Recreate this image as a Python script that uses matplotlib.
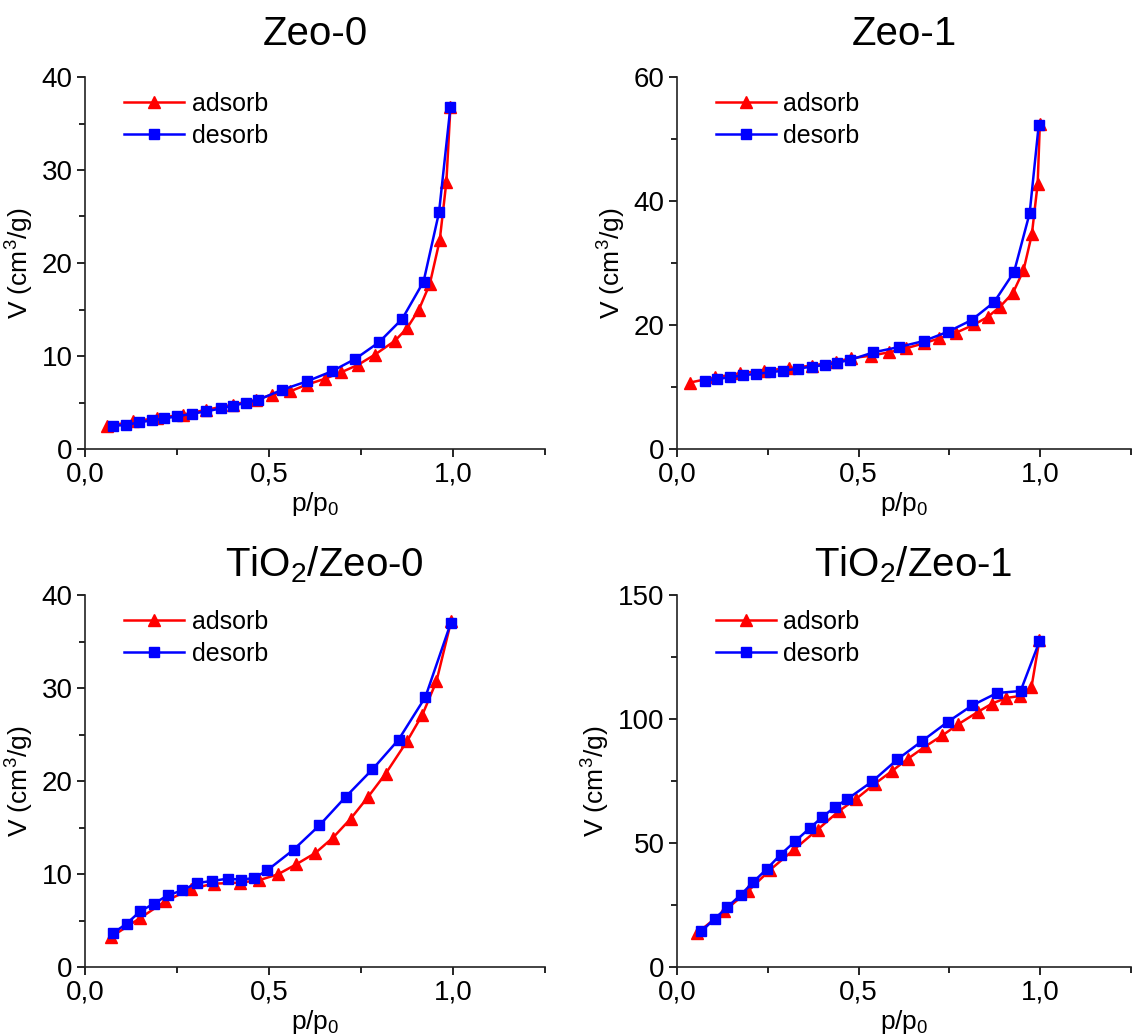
import matplotlib
matplotlib.use("Agg")
import matplotlib.pyplot as plt
from matplotlib.ticker import MultipleLocator, FuncFormatter

plt.rcParams['font.family'] = ['Liberation Sans', 'DejaVu Sans']
plt.rcParams['mathtext.default'] = 'regular'

# Zeo-0
zeo0_ads_x = [0.059, 0.130, 0.197, 0.265, 0.330, 0.401, 0.466, 0.507, 0.557, 0.602, 0.652,
              0.695, 0.742, 0.787, 0.842, 0.875, 0.907, 0.937, 0.964, 0.982, 0.993]
zeo0_ads_y = [2.43, 2.97, 3.33, 3.69, 4.22, 4.76, 5.30, 5.83, 6.19, 6.91, 7.55,
              8.23, 9.05, 10.13, 11.63, 12.99, 14.96, 17.75, 22.47, 28.73, 36.78]
zeo0_des_x = [0.077, 0.111, 0.146, 0.182, 0.215, 0.251, 0.290, 0.329, 0.369, 0.403, 0.437,
              0.469, 0.536, 0.602, 0.670, 0.735, 0.799, 0.862, 0.920, 0.962, 0.993]
zeo0_des_y = [2.50, 2.58, 2.86, 3.08, 3.29, 3.51, 3.79, 4.04, 4.36, 4.65, 4.97,
              5.26, 6.37, 7.26, 8.34, 9.70, 11.48, 13.99, 18.00, 25.44, 36.78]

# Zeo-1
zeo1_ads_x = [0.035, 0.106, 0.174, 0.240, 0.307, 0.371, 0.439, 0.478, 0.534, 0.583, 0.630,
              0.679, 0.722, 0.768, 0.819, 0.856, 0.889, 0.925, 0.954, 0.977, 0.993, 0.999]
zeo1_ads_y = [10.71, 11.57, 12.21, 12.64, 13.02, 13.45, 14.09, 14.63, 15.05, 15.59, 16.23,
              17.04, 17.84, 18.75, 20.09, 21.32, 22.93, 25.18, 28.82, 34.61, 42.75, 52.39]
zeo1_des_x = [0.077, 0.111, 0.147, 0.181, 0.217, 0.255, 0.293, 0.334, 0.371, 0.408, 0.441,
              0.476, 0.541, 0.611, 0.679, 0.746, 0.811, 0.873, 0.928, 0.971, 0.996]
zeo1_des_y = [11.04, 11.30, 11.57, 11.89, 12.11, 12.37, 12.64, 12.96, 13.29, 13.55, 13.93,
              14.36, 15.59, 16.45, 17.41, 18.91, 20.79, 23.68, 28.55, 38.04, 52.29]

# TiO2/Zeo-0
tz0_ads_x = [0.071, 0.150, 0.218, 0.289, 0.350, 0.420, 0.472, 0.524, 0.574, 0.626, 0.674,
             0.722, 0.769, 0.817, 0.875, 0.917, 0.955, 0.995]
tz0_ads_y = [3.23, 5.27, 7.06, 8.42, 8.96, 9.07, 9.32, 9.96, 11.04, 12.26, 13.91,
             15.95, 18.28, 20.79, 24.27, 27.14, 30.72, 37.20]
tz0_des_x = [0.077, 0.113, 0.150, 0.187, 0.225, 0.264, 0.304, 0.345, 0.388, 0.424, 0.460,
             0.495, 0.567, 0.637, 0.708, 0.781, 0.852, 0.925, 0.994]
tz0_des_y = [3.66, 4.66, 5.99, 6.81, 7.71, 8.24, 9.03, 9.25, 9.50, 9.39, 9.57,
             10.39, 12.62, 15.23, 18.28, 21.25, 24.44, 29.03, 36.99]

# TiO2/Zeo-1
tz1_ads_x = [0.056, 0.129, 0.195, 0.257, 0.323, 0.387, 0.446, 0.494, 0.545, 0.592, 0.636,
             0.684, 0.731, 0.774, 0.828, 0.867, 0.906, 0.944, 0.976, 0.998]
tz1_ads_y = [13.71, 22.45, 30.51, 39.25, 47.45, 55.38, 62.90, 67.88, 73.92, 79.03, 84.01,
             88.98, 93.41, 97.85, 102.82, 106.18, 108.47, 109.27, 112.90, 131.99]
tz1_des_x = [0.067, 0.104, 0.139, 0.176, 0.210, 0.248, 0.285, 0.325, 0.366, 0.400, 0.435,
             0.468, 0.538, 0.607, 0.675, 0.745, 0.813, 0.881, 0.946, 0.998]
tz1_des_y = [14.38, 19.49, 24.19, 29.17, 34.27, 39.65, 45.30, 50.67, 56.05, 60.48, 64.52,
             67.61, 74.87, 83.74, 91.13, 98.79, 105.51, 110.48, 111.29, 131.32]

titles = ['Zeo-0', 'Zeo-1', 'TiO$_2$/Zeo-0', 'TiO$_2$/Zeo-1']
title_pos = [(0.5, 1.086), (0.5, 1.086), (0.52, 1.051), (0.52, 1.051)]
ymaxes = [40, 60, 40, 150]
ysteps = [10, 20, 10, 50]
data = [(zeo0_ads_x, zeo0_ads_y, zeo0_des_x, zeo0_des_y),
        (zeo1_ads_x, zeo1_ads_y, zeo1_des_x, zeo1_des_y),
        (tz0_ads_x, tz0_ads_y, tz0_des_x, tz0_des_y),
        (tz1_ads_x, tz1_ads_y, tz1_des_x, tz1_des_y)]

W, H = 1137, 1036
# axes boxes in pixels: left, top, right, bottom
boxes = [(85, 77, 545, 449), (677, 77, 1131, 449),
         (85, 595, 545, 967), (677, 595, 1131, 967)]

fig = plt.figure(figsize=(W / 100, H / 100), dpi=100)

comma = FuncFormatter(lambda v, p: ('%.1f' % v).replace('.', ','))

for i in range(4):
    l, t, r, b = boxes[i]
    ax = fig.add_axes([l / W, 1 - b / H, (r - l) / W, (b - t) / H])
    ax_x, ax_y, de_x, de_y = data[i]
    ax.plot(ax_x, ax_y, color='red', marker='^', markersize=9, lw=1.8, label='adsorb')
    ax.plot(de_x, de_y, color='blue', marker='s', markersize=7, lw=1.8, label='desorb')
    ax.set_xlim(0, 1.25)
    ax.set_ylim(0, ymaxes[i])
    ax.xaxis.set_major_locator(MultipleLocator(0.5))
    ax.xaxis.set_minor_locator(MultipleLocator(0.25))
    ax.xaxis.set_major_formatter(comma)
    ax.yaxis.set_major_locator(MultipleLocator(ysteps[i]))
    ax.yaxis.set_minor_locator(MultipleLocator(ysteps[i] / 2))
    for s in ['top', 'right']:
        ax.spines[s].set_visible(False)
    for s in ['left', 'bottom']:
        ax.spines[s].set_linewidth(1.2)
        ax.spines[s].set_color('#222222')
    ax.tick_params(which='major', direction='out', length=6, width=1.2, labelsize=20, pad=3)
    ax.tick_params(which='minor', direction='out', length=4, width=1.2)
    ax.set_xlabel('p/p$_0$', fontsize=19, labelpad=2)
    ax.set_ylabel('V (cm$^3$/g)', fontsize=19, labelpad=4)
    tx, ty = title_pos[i]
    ax.text(tx, ty, titles[i], transform=ax.transAxes, ha='center', va='baseline', fontsize=29)
    ax.legend(loc='upper left', frameon=False, fontsize=18, handlelength=2.4,
              handletextpad=0.3, labelspacing=0.32, borderaxespad=0, borderpad=0,
              bbox_to_anchor=(0.085, 0.961))

fig.savefig('out.png', dpi=100)
